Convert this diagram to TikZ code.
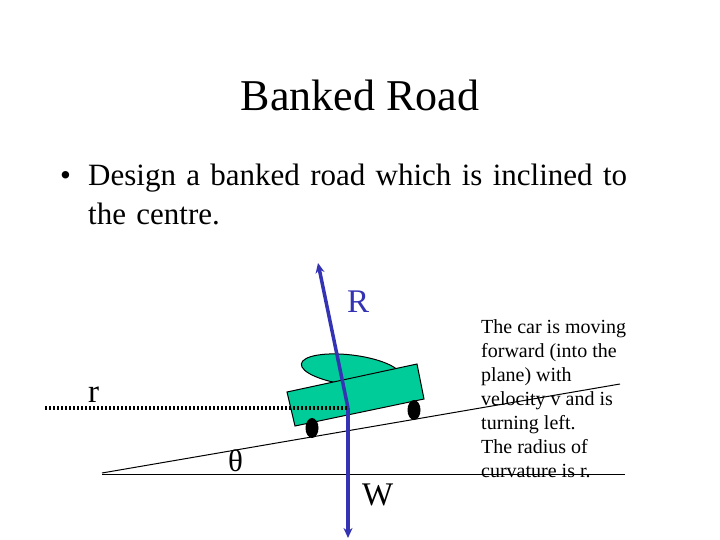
\documentclass[tikz,border=0pt]{standalone}
\usepackage{fontspec}
\setmainfont{Liberation Serif}
\usetikzlibrary{arrows.meta}
\definecolor{fb}{RGB}{51,51,179}
\definecolor{cg}{RGB}{0,204,153}
\begin{document}
\begin{tikzpicture}[x=1pt,y=-1pt,
  txt/.style={inner sep=0pt,anchor=base west},
  force/.style={fb,line width=3.5pt,-{Stealth[length=10pt,width=9pt]}}]
\useasboundingbox (0,0) rectangle (720,540);
\node[inner sep=0pt,font=\fontsize{44}{48}\selectfont] (title) at (360,95) {Banked Road};
\node[txt,font=\fontsize{31}{39}\selectfont] (b1) at (60,186) {•};
\node[txt,font=\fontsize{31}{39}\selectfont,align=left,text width=640pt] (bt) at (88,186) {Design a banked road which is inclined to\\\hspace*{0pt}the centre.};
% ground lines
\coordinate (g1) at (102,473); \coordinate (g2) at (620,384);
\draw[line width=1pt] (g1) -- (g2);
\coordinate (h1) at (102,474); \coordinate (h2) at (625,474);
\draw[line width=1pt] (h1) -- (h2);
% car
\draw[fill=cg,line width=1pt,rotate around={-7:(351,370)}] (351,370) ellipse (50 and 15);
\draw[fill=cg,line width=1pt] (287,392) -- (417,364) -- (424,399) -- (295,426) -- cycle;
\fill (312,428) ellipse (6.5 and 10);
\fill (414,410) ellipse (6.5 and 10);
% forces
\coordinate (c) at (348,408);
\coordinate (rt) at (318,263);
\coordinate (wt) at (348,538);
\draw[force] (c) -- (rt);
\draw[force] (c) -- (wt);
\coordinate (d1) at (45,408);
\draw[line width=3.5pt,dash pattern=on 2.2pt off 1.8pt] (d1) -- (c);
\node[txt,fb,font=\fontsize{33}{33}\selectfont] (R) at (347,312) {R};
\node[txt,font=\fontsize{33}{33}\selectfont] (r) at (88,402) {r};
\node[txt,font=\fontsize{31}{31}\selectfont] (th) at (228,471) {θ};
\node[txt,font=\fontsize{33}{33}\selectfont] (W) at (362,505) {W};
\node[anchor=north west,inner sep=0pt,align=left,font=\fontsize{20}{24}\selectfont] (note) at (481,319)
 {The car is moving\\forward (into the\\plane) with\\velocity v and is\\turning left.\\The radius of\\curvature is r.};
\end{tikzpicture}
\end{document}
